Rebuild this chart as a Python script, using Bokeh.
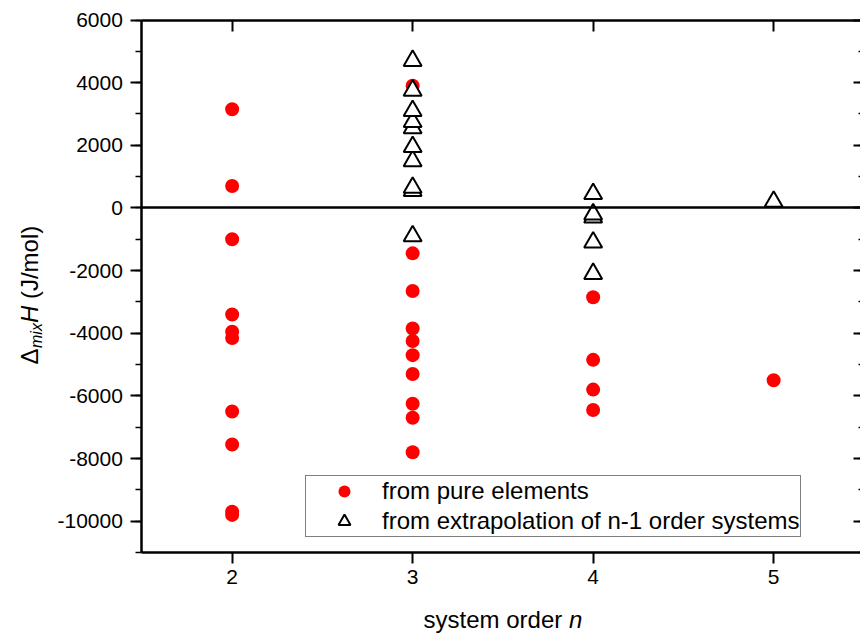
import math
from bokeh.plotting import figure
from bokeh.models import (Range1d, LinearAxis, SingleIntervalTicker, FixedTicker, Label,
                          ColumnDataSource, Legend, LegendItem, PrintfTickFormatter)
from bokeh.embed import file_html
from bokeh.resources import INLINE

FONT = "Liberation Sans"

# ---- data ----
orders = [2, 3, 4, 5]
pure_n2 = [3150, 700, -1000, -3400, -3950, -4150, -6500, -7550, -9700, -9800]
pure_n3 = [3900, -1450, -2650, -3850, -4250, -4700, -5300, -6250, -6700, -7800]
pure_n4 = [-2850, -4850, -5800, -6450]
pure_n5 = [-5500]
extrap_n3 = [4700, 3750, 3100, 2750, 2550, 1950, 1500, 650, 550, -900]
extrap_n4 = [450, -200, -300, -1100, -2100]
extrap_n5 = [200]

legend_pure = "from pure elements"
legend_extrap = "from extrapolation of n-1 order systems"
x_title = "system order"
x_title_var = "n"
x_lo, x_hi = 1.5, 5.5
y_lo, y_hi = -11000, 6000
y_tick_interval = 2000

pure_x, pure_y = [], []
for n, vals in zip(orders, [pure_n2, pure_n3, pure_n4, pure_n5]):
    pure_x += [n] * len(vals)
    pure_y += list(vals)

ext_pairs = []
for n, vals in zip(orders[1:], [extrap_n3, extrap_n4, extrap_n5]):
    ext_pairs += [(n, v) for v in vals]
ext_pairs.sort(key=lambda t: t[1])  # higher triangles drawn on top
ext_x = [t[0] for t in ext_pairs]
ext_y = [t[1] for t in ext_pairs]

# ---- layout: the axes box sits at these canvas pixels ----
W, H = 860, 639
PL, PR, PT, PB = 141.4, 863.4, 19.5, 552.0
ppx = (PR - PL) / (x_hi - x_lo)
ppy = (PB - PT) / (y_hi - y_lo)
xs = x_lo - PL / ppx
xe = x_hi + (W - PR) / ppx
ys = y_lo - (H - PB) / ppy
ye = y_hi + PT / ppy

p = figure(width=W, height=H, output_backend="svg", toolbar_location=None,
           title=None, x_range=Range1d(xs, xe), y_range=Range1d(ys, ye),
           x_axis_location=None, y_axis_location=None, min_border=0,
           background_fill_color="white", border_fill_color="white")
p.outline_line_color = None
p.xgrid.visible = False
p.ygrid.visible = False

xticker = SingleIntervalTicker(interval=1, num_minor_ticks=0)
yticker = SingleIntervalTicker(interval=y_tick_interval, num_minor_ticks=2)
fmt = PrintfTickFormatter(format="%d")

common = dict(axis_line_width=2.5, axis_line_color="black",
              major_tick_line_width=2, major_tick_line_color="black",
              minor_tick_line_width=1.5, minor_tick_line_color="black",
              major_label_text_font=FONT, major_label_text_font_size="21px",
              major_label_text_color="black", formatter=fmt)

bottom = LinearAxis(fixed_location=y_lo, bounds=(x_lo, x_hi), ticker=xticker,
                    major_tick_in=0, major_tick_out=11, minor_tick_in=0, minor_tick_out=0,
                    major_label_standoff=6, **common)
p.add_layout(bottom, "below")

left = LinearAxis(fixed_location=x_lo, bounds=(y_lo, y_hi), ticker=yticker,
                  major_tick_in=0, major_tick_out=11, minor_tick_in=0, minor_tick_out=6,
                  major_label_standoff=8, **common)
p.add_layout(left, "left")

hidden = dict(common)
hidden["major_label_text_color"] = None
top = LinearAxis(fixed_location=y_hi, bounds=(x_lo, x_hi), ticker=xticker,
                 major_tick_in=11, major_tick_out=0, minor_tick_in=0, minor_tick_out=0,
                 **hidden)
p.add_layout(top, "above")

right = LinearAxis(fixed_location=x_hi, bounds=(y_lo, y_hi), ticker=yticker,
                   major_tick_in=10, major_tick_out=0, minor_tick_in=5, minor_tick_out=0,
                   **hidden)
p.add_layout(right, "right")

zero = LinearAxis(fixed_location=0, bounds=(x_lo, x_hi), ticker=FixedTicker(ticks=[]),
                  major_tick_in=0, major_tick_out=0, minor_tick_in=0, minor_tick_out=0,
                  **hidden)
p.add_layout(zero, "below")

src_pure = ColumnDataSource(dict(x=pure_x, y=pure_y))
src_ext = ColumnDataSource(dict(x=ext_x, y=ext_y))
r_pure = p.scatter("x", "y", source=src_pure, marker="circle", size=14,
                   fill_color="#ff0000", line_color=None)
r_ext = p.scatter("x", "y", source=src_ext, marker="triangle", size=18,
                  fill_color="white", line_color="black", line_width=2)

legend = Legend(items=[LegendItem(label=legend_pure, renderers=[r_pure]),
                       LegendItem(label=legend_extrap, renderers=[r_ext])],
                location=(305, H - 537), padding=0, spacing=0, margin=0,
                glyph_width=76, glyph_height=30, label_standoff=0,
                label_text_font=FONT, label_text_font_size="24px",
                label_text_color="black", border_line_color="black",
                border_line_width=1, background_fill_color="white",
                background_fill_alpha=1.0)
p.add_layout(legend, "center")

# ---- axis titles composed of pieces (italic variables, subscript) ----
def lab(text, x, y, size, style="normal", angle=0.0, align="left"):
    p.add_layout(Label(text=text, x=x, y=y, x_units="screen", y_units="screen",
                       angle=angle, text_font=FONT, text_font_size=size,
                       text_font_style=style, text_color="black",
                       text_align=align, text_baseline="middle"))

MID = 0.3465  # distance baseline -> middle of the text box, in em

# x title (widths from Arial/Liberation metrics)
fs = 24
w_main = (0.5 + 0.5 + 0.5 + 0.278 + 0.556 + 0.833 + 0.278 + 0.556 + 0.333 + 0.556 + 0.556 + 0.333) * fs
w_space = 0.278 * fs
w_n = 0.556 * fs
cx = (PL + PR) / 2
x0 = cx - (w_main + w_space + w_n) / 2
mid_x = (H - 627) + MID * fs
lab(x_title, x0, mid_x, f"{fs}px")
lab(x_title_var, x0 + w_main + w_space, mid_x, f"{fs}px", "italic")

# y title, rotated; every piece anchored at its own centre
fy = 24
fsub = 16
base_line = 37          # canvas x of the baseline
start = H - 364         # screen y where the title begins (bottom end)
a = math.pi / 2
pieces = [("\u0394", fy, "normal", 0.668 * fy, 0.0, 0.5),
          ("mix", fsub, "italic", 1.555 * fsub, 5.0, 0.0),
          ("H", fy, "italic", 0.722 * fy, 0.0, 0.278 * fy),
          ("(J/mol)", fy, "normal", 3.055 * fy, 0.0, 0.0)]
pos = start
for text, size, style, width, drop, gap_after in pieces:
    cxp = base_line + drop - MID * size
    cyp = pos + width / 2
    lab(text, cxp, cyp, f"{size}px", style, angle=a, align="center")
    pos += width + gap_after

open("out.html", "w").write(file_html(p, INLINE))
